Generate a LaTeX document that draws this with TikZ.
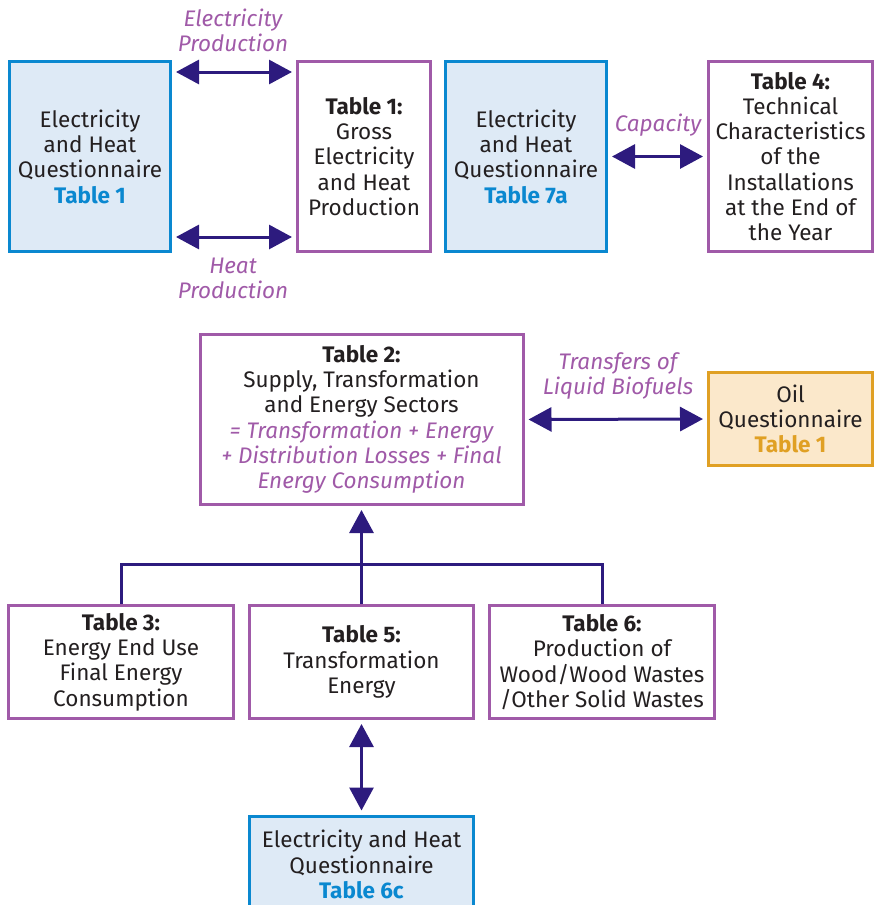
\documentclass[tikz,border=0pt]{standalone}
\usepackage{fontspec}
\setmainfont{Fira Sans}
\usetikzlibrary{arrows.meta}
\definecolor{qblue}{HTML}{0A88D0}
\definecolor{qfill}{HTML}{DEEAF6}
\definecolor{tpurple}{HTML}{A05AA8}
\definecolor{aindigo}{HTML}{2D1B7E}
\definecolor{ofill}{HTML}{FBE8CB}
\definecolor{oborder}{HTML}{E0A024}
\definecolor{txt}{HTML}{231F20}
\tikzset{
  box/.style={draw, line width=3pt, align=center, inner sep=0pt, text=txt,
    font=\fontsize{22.5}{25.3}\selectfont},
  qbox/.style={box, draw=qblue, fill=qfill},
  tbox/.style={box, draw=tpurple, fill=white},
  obox/.style={box, draw=oborder, fill=ofill},
  conn/.style={draw=aindigo, line width=3pt},
  dbl/.style={conn, {Triangle[length=23pt,width=24pt]}-{Triangle[length=23pt,width=24pt]},
    shorten <=4pt, shorten >=4pt},
  upar/.style={conn, -{Triangle[length=23pt,width=24pt]}, shorten >=4pt},
  lbl/.style={text=tpurple, font=\fontsize{22.5}{25}\selectfont\itshape, align=center, inner sep=0pt},
}
\newcommand{\tq}[1]{{\bfseries\color{qblue}#1}}
\newcommand{\tor}[1]{{\bfseries\color{oborder}#1}}
\begin{document}
\begin{tikzpicture}[x=1pt,y=-1pt]
\useasboundingbox (0,0) rectangle (874,905);
\clip (0,0) rectangle (874,905);
% top row
\node[qbox, minimum width=161pt, minimum height=190pt] (A) at (90,156.5)
  {Electricity\\and Heat\\Questionnaire\\\tq{Table 1}};
\node[tbox, minimum width=133pt, minimum height=190pt] (B) at (364,156.5)
  {\textbf{Table 1:}\\Gross\\Electricity\\and Heat\\Production};
\node[qbox, minimum width=161pt, minimum height=190pt] (C) at (526,156.5)
  {Electricity\\and Heat\\Questionnaire\\\tq{Table 7a}};
\node[tbox, minimum width=164pt, minimum height=190pt] (D) at (790.5,156.5)
  {\textbf{Table 4:}\\Technical\\Characteristics\\of the\\Installations\\at the End of\\the Year};
\coordinate (ya) at (0,72);
\coordinate (yb) at (0,237);
\draw[dbl] (A.east |- ya) -- (B.west |- ya);
\draw[dbl] (A.east |- yb) -- (B.west |- yb);
\draw[dbl] (C.east) -- (D.west);
\node[lbl] (l1) at (233,30) {Electricity\\Production};
\node[lbl] (l2) at (233,278) {Heat\\Production};
\node[lbl] (l3) at (658,125) {Capacity};
% middle
\node[tbox, minimum width=323pt, minimum height=170pt] (E) at (361.5,419.5)
  {\textbf{Table 2:}\\Supply, Transformation\\and Energy Sectors\\
   \textcolor{tpurple}{\itshape = Transformation + Energy}\\
   \textcolor{tpurple}{\itshape + Distribution Losses + Final}\\
   \textcolor{tpurple}{\itshape Energy Consumption}};
\node[obox, minimum width=164pt, minimum height=93pt] (F) at (790.5,419)
  {Oil\\Questionnaire\\\tor{Table 1}};
\draw[dbl] (E.east) -- (F.west);
\node[lbl] (l4) at (618,376) {Transfers of\\Liquid Biofuels};
% bottom row
\node[tbox, minimum width=225pt, minimum height=113pt] (G) at (121,662)
  {\textbf{Table 3:}\\Energy End Use\\Final Energy\\Consumption};
\node[tbox, minimum width=224pt, minimum height=113pt] (H) at (361.5,662)
  {\textbf{Table 5:}\\Transformation\\Energy};
\node[tbox, minimum width=225pt, minimum height=113pt] (I) at (602,662)
  {\textbf{Table 6:}\\Production of\\Wood/Wood Wastes\\/Other Solid Wastes};
\node[qbox, minimum width=224pt, minimum height=97pt, anchor=north] (J) at (361.5,814.5)
  {Electricity and Heat\\Questionnaire\\\tq{Table 6c}};
\coordinate (jn) at (0,564);
\draw[conn] (G.north) -- (G.north |- jn) -- (I.north |- jn) -- (I.north);
\draw[upar] (H.north) -- (E.south);
\draw[dbl] (H.south) -- (J.north);
\end{tikzpicture}
\end{document}
